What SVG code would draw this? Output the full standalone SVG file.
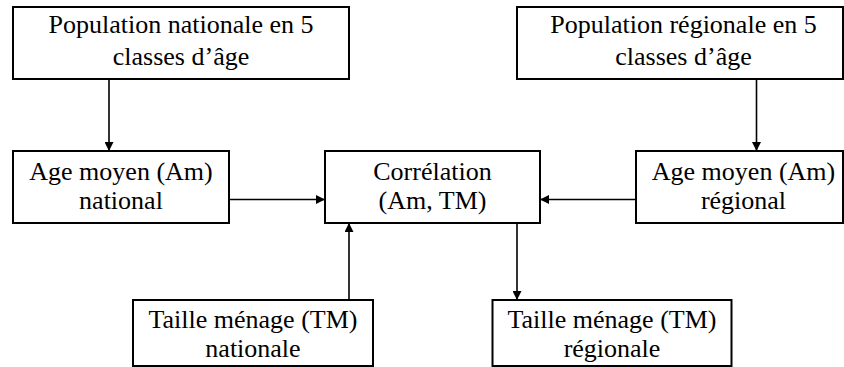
<svg xmlns="http://www.w3.org/2000/svg" width="844" height="367" viewBox="0 0 844 367">
<defs>
<marker id="ah" viewBox="0 0 10 10" refX="10" refY="5" markerWidth="10" markerHeight="9" markerUnits="userSpaceOnUse" orient="auto">
<path d="M0,0 L10,5 L0,10 z" fill="#000"/>
</marker>
<style>
.box{fill:#fff;stroke:#000;stroke-width:2}
.t{font-family:"Liberation Serif","Times New Roman",serif;font-size:26px;fill:#000;text-anchor:middle}
.c{stroke:#000;stroke-width:1.6;fill:none;marker-end:url(#ah)}
</style>
</defs>
<rect width="844" height="367" fill="#fff"/>
<g id="connectors">
<line class="c" x1="109" y1="79" x2="109" y2="151"/>
<line class="c" x1="756.5" y1="79" x2="756.5" y2="151"/>
<line class="c" x1="229" y1="199.5" x2="325" y2="199.5"/>
<line class="c" x1="636" y1="199.5" x2="540" y2="199.5"/>
<line class="c" x1="349" y1="300" x2="349" y2="223"/>
<line class="c" x1="517" y1="223" x2="517" y2="300"/>
</g>
<g id="pop-nat">
<rect class="box" x="13" y="7" width="336" height="72"/>
<text class="t" x="181" y="33">Population nationale en 5</text>
<text class="t" x="181" y="65">classes d’âge</text>
</g>
<g id="pop-reg">
<rect class="box" x="517" y="7" width="326" height="72"/>
<text class="t" x="683.5" y="33">Population régionale en 5</text>
<text class="t" x="683.5" y="65">classes d’âge</text>
</g>
<g id="age-nat">
<rect class="box" x="13" y="151" width="216" height="72"/>
<text class="t" x="121" y="180">Age moyen (Am)</text>
<text class="t" x="121" y="209">national</text>
</g>
<g id="correlation">
<rect class="box" x="325" y="151" width="215" height="72"/>
<text class="t" x="432.5" y="180">Corrélation</text>
<text class="t" x="432.5" y="209">(Am, TM)</text>
</g>
<g id="age-reg">
<rect class="box" x="636" y="151" width="207" height="72"/>
<text class="t" x="743.5" y="180">Age moyen (Am)</text>
<text class="t" x="743.5" y="209">régional</text>
</g>
<g id="tm-nat">
<rect class="box" x="133" y="300" width="240" height="66"/>
<text class="t" x="253" y="328">Taille ménage (TM)</text>
<text class="t" x="253" y="357">nationale</text>
</g>
<g id="tm-reg">
<rect class="box" x="492.5" y="300" width="239" height="66"/>
<text class="t" x="612" y="328">Taille ménage (TM)</text>
<text class="t" x="612" y="357">régionale</text>
</g>
</svg>
